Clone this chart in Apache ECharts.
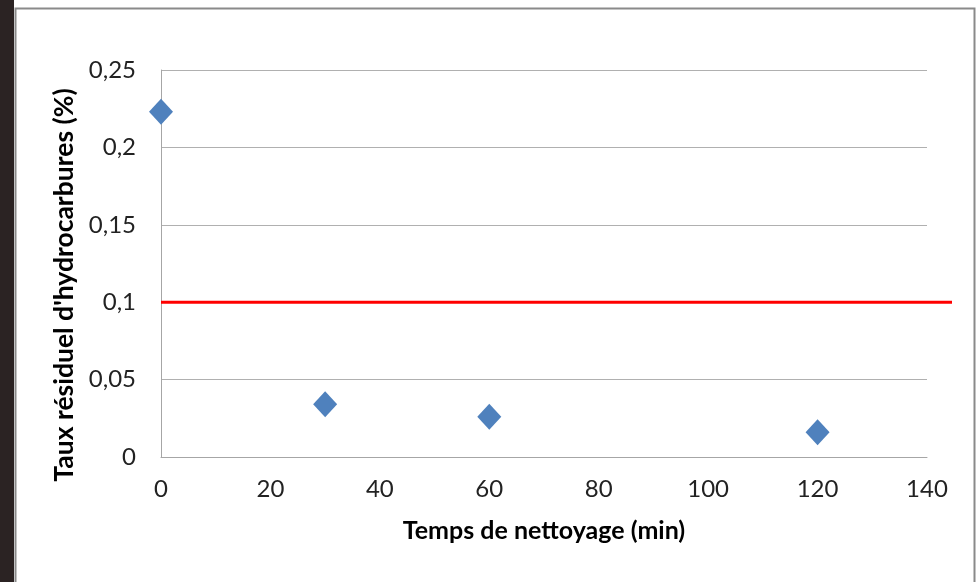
<!DOCTYPE html>
<html><head><meta charset="utf-8">
<script src="https://cdn.jsdelivr.net/npm/echarts@6/dist/echarts.min.js"></script>
<style>html,body{margin:0;padding:0;background:#fff}#c{width:976px;height:582px}</style>
</head><body><div id="c"></div>
<script>
const times = [0, 30, 60, 120];
const residual = [0.223, 0.034, 0.026, 0.016];
const limitX = [0, 144.7];
const limitY = [0.1, 0.1];
const xTitle = 'Temps de nettoyage (min)';
const yTitle = "Taux résiduel d'hydrocarbures (%)";

const font = 'Lato, "Open Sans", sans-serif';
const chart = echarts.init(document.getElementById('c'));
chart.setOption({
  animation: false,
  backgroundColor: '#fff',
  graphic: [
    {type:'rect', shape:{x:0,y:0,width:14,height:582}, style:{fill:'#2b2323'}},
    {type:'rect', shape:{x:15.5,y:8.5,width:959,height:600}, style:{fill:'none', stroke:'#8a8a8a', lineWidth:2}}
  ],
  grid: [
    {left:161, right:49, top:70, bottom:125},
    {left:161, right:24, top:70, bottom:125}
  ],
  xAxis: [{
    type:'value', min:0, max:140, interval:20, gridIndex:0,
    name: xTitle, nameLocation:'middle', nameGap:61,
    nameTextStyle:{fontFamily:font, fontSize:25, fontWeight:'bold', color:'#000'},
    axisLine:{show:true, lineStyle:{color:'#a6a6a6', width:1}},
    axisTick:{show:false},
    axisLabel:{fontFamily:font, fontSize:24, color:'#222', margin:20},
    splitLine:{show:false}
  },{
    type:'value', min:0, max:144.7, gridIndex:1, show:false
  }],
  yAxis: [{
    type:'value', min:0, max:0.25, interval:0.05, gridIndex:0,
    name: yTitle, nameLocation:'middle', nameGap:82, nameRotate:90,
    nameTextStyle:{fontFamily:font, fontSize:26.5, fontWeight:'bold', color:'#000', padding:[0,43,0,0]},
    axisLine:{show:true, lineStyle:{color:'#a6a6a6', width:1}},
    axisTick:{show:false},
    axisLabel:{fontFamily:font, fontSize:24, color:'#222', margin:25,
      formatter: v => String(+v.toFixed(2)).replace('.', ',')},
    splitLine:{show:true, lineStyle:{color:'#b0b0b0', width:1}}
  },{
    type:'value', min:0, max:0.25, gridIndex:1, show:false
  }],
  series: [
    {type:'line', xAxisIndex:1, yAxisIndex:1, data: limitX.map((x,i)=>[x, limitY[i]]), symbol:'none',
     lineStyle:{color:'#ff0000', width:3}, z:3},
    {type:'scatter', xAxisIndex:0, yAxisIndex:0, data: times.map((t,i)=>[t, residual[i]]), symbol:'diamond',
     symbolSize:[24,26], itemStyle:{color:'#4f81bd', opacity:1}, clip:false, z:4}
  ]
});
</script></body></html>
